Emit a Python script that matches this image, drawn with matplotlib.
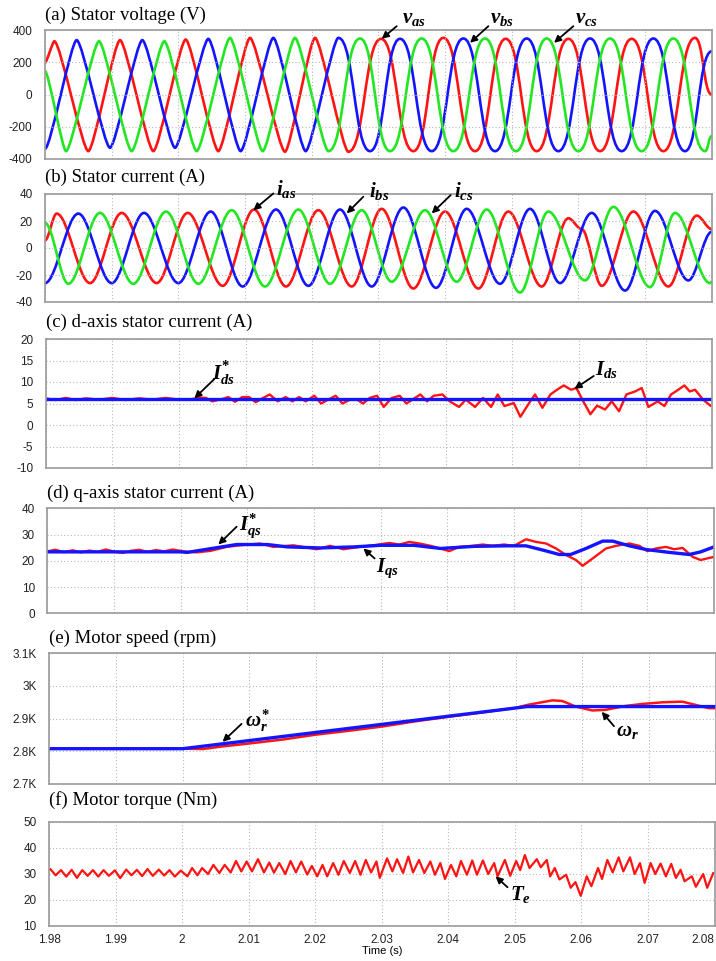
import numpy as np
import matplotlib
matplotlib.use("Agg")
import matplotlib.pyplot as plt
from matplotlib.path import Path
from matplotlib.patches import PathPatch

# time axis: values below are in ms after T0 (s)
T0 = 1.98

# (a) stator voltages: turning points
va_ms = [0, 1.4, 6.5, 11.25, 16.25, 21.1, 26.0, 30.75, 36.0, 40.5, 45.5, 50.4, 55.25,
         59.75, 64.5, 69.1, 73.75, 78.5, 83.25, 88.0, 92.75, 97.5, 100]
va = [198, 333, -354, 340, -354, 344, -354, 354, -358, 354, -358, 348, -354,
      354, -354, 348, -354, 348, -354, 348, -354, 354, 0]
vb_ms = [0, 4.75, 9.75, 14.6, 19.5, 24.5, 29.35, 34.25, 39.1, 44.0, 48.75, 53.25, 58.0,
         62.75, 67.5, 72.25, 77.0, 81.75, 86.5, 91.25, 96.0, 100]
vb = [-340, 340, -333, 340, -333, 348, -354, 354, -354, 354, -354, 348, -354,
      350, -354, 350, -354, 350, -354, 350, -354, 270]
vc_ms = [0, 3.15, 8.1, 13.0, 17.9, 22.75, 27.75, 32.65, 37.5, 42.5, 47.25, 51.75, 56.5,
         61.25, 66.0, 70.65, 75.25, 80.0, 84.75, 89.5, 94.25, 99.0, 100]
vc = [146, -354, 333, -354, 333, -354, 354, -354, 354, -354, 350, -354, 350,
      -354, 350, -354, 350, -354, 350, -354, 350, -354, -260]

# (b) stator currents
ia_ms = [0, 1.75, 6.75, 11.5, 16.75, 21.4, 26.65, 31.35, 36.15, 41.0, 46.0, 50.5, 55.25,
         60.0, 65.0, 69.5, 74.5, 78.5, 80.5, 83.5, 88.25, 93.5, 97.75, 100]
ia = [5.7, 25.5, -26, 26, -26, 26, -28, 28.5, -28.5, 28, -28.5, 29, -30,
      27, -30, 27, -28.5, 22, 14, -28, 27, -28.5, 24, 14]
ib_ms = [0, 5.0, 10.0, 14.85, 20.0, 24.85, 29.65, 34.65, 39.5, 44.25, 49.0, 53.75, 58.65,
         63.25, 68.25, 72.75, 77.25, 82.0, 87.0, 91.5, 96.5, 100]
ib = [-26, 25.5, -26, 26, -26, 27, -28.5, 28.5, -28, 28.5, -28.5, 30, -29.5,
      29, -26.5, 29, -26, 26, -31.5, 27.5, -24, 12]
ic_ms = [0, 3.5, 8.25, 13.25, 18.15, 23.0, 28.0, 33.0, 38.0, 42.75, 47.5, 52.0, 57.0,
         61.75, 66.25, 71.25, 75.5, 81.0, 85.25, 90.75, 94.5, 99.75, 100]
ic = [18.6, -26.5, 26, -26.5, 27, -26.5, 28, -28.5, 28.5, -26.5, 28, -25, 28,
      -25, 28.5, -33, 27, -24, 30.5, -29, 26, -26, -25]

# (c) d-axis current
ids_ref_ms = [0, 100]
ids_ref = [6.0, 6.0]
ids_ms = [0, 1.5, 3, 4.5, 6, 8, 10, 12, 14, 16, 18, 20, 21.9, 23.0, 24.0, 25.0, 26.4, 27.4,
          28.4, 29.5, 30.5, 31.5, 32.5, 33.6, 34.8, 36.0, 37.0, 38.0, 39.0, 40.3, 41.3,
          42.5, 43.5, 44.5, 45.8, 46.6, 47.6, 48.6, 49.7, 50.7, 51.9, 53.1, 54.1, 55.1,
          56.2, 57.2, 58.2, 59.5, 60.6, 62.0, 63.0, 64.4, 65.6, 66.8, 67.8, 68.8, 70.2,
          71.2, 72.5, 73.4, 74.5, 75.7, 76.7, 77.7, 78.8, 79.6, 80.7, 81.7, 82.7, 83.9,
          84.9, 86.0, 87.1, 88.4, 89.4, 90.4, 91.8, 92.8, 93.8, 94.5, 95.8, 96.6, 97.4,
          98.6, 99.7]
ids = [6.2, 5.8, 6.3, 5.8, 6.2, 5.9, 6.3, 5.8, 6.2, 5.9, 6.3, 5.9, 6.0, 6.4, 6.3, 5.5, 6.0,
       6.5, 5.4, 6.5, 6.5, 5.3, 6.2, 7.1, 5.5, 6.5, 5.5, 6.5, 5.5, 6.8, 5.0, 6.0, 6.8, 5.0,
       6.0, 6.0, 5.0, 6.3, 6.8, 4.2, 6.3, 6.8, 5.0, 6.0, 7.1, 5.5, 6.8, 7.1, 5.5, 4.2, 5.9,
       4.2, 6.3, 4.2, 7.1, 4.4, 5.1, 1.9, 5.1, 7.1, 4.0, 7.1, 8.2, 9.2, 8.2, 8.6, 5.3, 2.5,
       4.5, 3.6, 5.5, 3.2, 7.1, 7.8, 8.6, 4.2, 5.5, 4.4, 7.1, 7.8, 9.2, 7.8, 8.2, 5.9, 4.5]

# (d) q-axis current
iqs_ref_ms = [0, 20, 21, 28.4, 33, 36, 41, 46, 50, 55, 59, 64, 69, 71.8, 74.3, 76.8, 78.5,
              80.8, 83.3, 84.8, 87.3, 89.8, 93.3, 96.3, 98, 100]
iqs_ref = [23.4, 23.4, 23.2, 26.2, 26.2, 25.3, 24.9, 25.3, 25.9, 25.9, 24.7, 25.5, 25.7,
           25.7, 24.1, 22.4, 22.4, 24.7, 27.5, 27.5, 25.7, 24.3, 23.2, 22.4, 23.4, 25.3]
iqs_ms = [0, 1.2, 2.5, 3.8, 5, 6.3, 7.5, 8.8, 10, 11.3, 12.5, 13.8, 15, 16.3, 17.5, 18.8,
          20.4, 22.4, 24.5, 26.9, 28.9, 31.9, 33.9, 36.9, 40.4, 42.4, 44.4, 46.9, 48.9,
          51.3, 52.8, 54.3, 55.8, 57.5, 59.3, 60.3, 61.8, 63.8, 65.3, 66.8, 68.5, 70,
          71.8, 73.3, 74.8, 76.3, 77.8, 79.3, 80.3, 81.8, 83.8, 85.3, 87.3, 88.8, 90,
          91.3, 92.8, 94, 95.3, 96.8, 98, 99.3, 100]
iqs = [23.6, 24.2, 23.3, 24.0, 23.2, 23.9, 23.4, 24.3, 23.5, 23.0, 23.8, 24.2, 23.4, 24.1,
       23.6, 24.3, 23.6, 23.2, 23.8, 25.3, 25.9, 26.6, 25.3, 25.9, 24.4, 25.7, 24.4, 25.3,
       25.9, 26.8, 26.2, 27.2, 26.6, 25.7, 24.4, 23.7, 25.3, 25.7, 26.2, 25.7, 26.2, 25.7,
       28.2, 27.2, 26.6, 24.7, 22.2, 20.3, 18.1, 20.9, 24.7, 25.7, 26.6, 25.7, 23.7,
       24.7, 25.3, 24.4, 24.9, 21.5, 20.3, 21.1, 21.5]

# (e) motor speed (rpm)
wr_ref_ms = [0, 20, 71.75, 100]
wr_ref = [2808, 2808, 2937, 2937]
wr_ms = [0, 20, 23, 26, 30, 35, 40, 45, 50, 55, 60, 65, 70, 71.75, 75.5, 77, 79, 81.5,
         83.5, 86.5, 89, 92, 95, 97, 99, 100]
wr = [2808, 2808, 2807, 2815, 2824, 2836, 2851, 2863, 2876, 2892, 2906, 2919, 2933, 2942,
      2956, 2954, 2937, 2925, 2927, 2939, 2945, 2950, 2952, 2942, 2932, 2932]

# (f) motor torque (Nm)
te_ms = [0, 0.2, 1.0, 1.8, 2.6, 3.4, 4.2, 5.0, 5.8, 6.6, 7.4, 8.2, 9.0, 9.9, 10.7, 11.6,
         12.4, 13.2, 14.0, 14.8, 15.6, 16.5, 17.3, 18.1, 18.9, 19.8, 20.8, 21.5, 22.3,
         23.0, 23.9, 24.7, 25.6, 26.4, 27.3, 28.1, 28.9, 29.7, 30.5, 31.4, 32.3, 33.1,
         33.8, 34.6, 35.5, 36.3, 37.1, 37.9, 38.8, 39.5, 40.3, 41.1, 41.8, 42.7, 43.5,
         44.3, 45.2, 46.0, 46.8, 47.6, 48.4, 49.2, 49.7, 50.8, 51.6, 52.3, 53.2, 54.0,
         54.7, 55.6, 56.4, 57.3, 58.0, 58.8, 59.5, 60.4, 61.2, 61.9, 62.8, 63.6, 64.3,
         65.2, 66.0, 66.9, 67.4, 68.5, 69.3, 70.2, 70.8, 71.5, 72.2, 73.3, 73.9, 74.8,
         75.3, 76.0, 76.7, 77.7, 78.4, 79.1, 79.9, 80.8, 81.5, 82.5, 83.1, 83.9, 84.7,
         85.6, 86.3, 87.3, 88.0, 88.8, 89.5, 90.4, 91.1, 91.9, 92.7, 93.5, 94.2, 94.9,
         95.5, 96.6, 97.2, 98.3, 98.9, 99.8]
te = [31.5, 31.9, 29.5, 31.5, 29.0, 31.6, 28.5, 31.5, 29.3, 31.5, 29.0, 31.5, 29.3, 31.4,
      28.4, 31.7, 29.5, 31.6, 29.2, 31.9, 29.3, 31.7, 29.4, 31.5, 29.0, 31.3, 29.1, 32.3,
      29.5, 32.3, 30.0, 33.5, 30.4, 33.5, 30.6, 35.0, 31.0, 34.8, 31.0, 35.7, 30.6, 34.4,
      30.5, 34.2, 30.0, 35.0, 30.6, 34.8, 29.8, 33.1, 29.1, 33.5, 29.1, 34.2, 29.7, 35.0,
      30.4, 35.0, 29.7, 35.4, 30.6, 34.8, 28.5, 36.0, 31.0, 35.7, 30.4, 36.7, 30.6, 35.4,
      30.4, 34.8, 29.7, 34.2, 28.1, 33.5, 29.1, 35.0, 29.7, 35.2, 29.7, 35.2, 30.0, 34.2,
      29.1, 35.4, 29.3, 35.0, 31.5, 37.3, 32.3, 35.7, 32.6, 35.4, 29.1, 32.3, 27.9, 29.7,
      24.7, 26.9, 21.6, 29.1, 25.3, 32.3, 28.1, 35.4, 30.6, 36.4, 31.0, 36.4, 30.0, 34.2,
      26.6, 34.2, 30.0, 34.0, 29.1, 33.9, 28.5, 31.6, 27.2, 29.1, 25.1, 30.0, 24.7, 30.3]

x_ticks = [1.98, 1.99, 2.0, 2.01, 2.02, 2.03, 2.04, 2.05, 2.06, 2.07, 2.08]
x_labels = ["1.98", "1.99", "2", "2.01", "2.02", "2.03", "2.04", "2.05", "2.06", "2.07", "2.08"]

RED, BLUE, GREEN = "#ff1414", "#1414ff", "#22e622"
W, H = 716, 961

plt.rcParams["mathtext.fontset"] = "custom"
plt.rcParams["mathtext.it"] = "Liberation Serif:italic:bold"
plt.rcParams["mathtext.rm"] = "Liberation Serif:bold"
plt.rcParams["mathtext.bf"] = "Liberation Serif:italic:bold"

fig = plt.figure(figsize=(W / 100, H / 100), dpi=100)


def tt(ms):
    return T0 + np.asarray(ms, float) / 1000.0


def panel(left, top, right, bottom, title, title_y, ylim, yticks, ylabels=None):
    ax = fig.add_axes([left / W, 1 - bottom / H, (right - left) / W, (bottom - top) / H])
    ax.set_xlim(1.98, 2.08)
    ax.set_ylim(*ylim)
    ax.set_xticks(x_ticks)
    ax.set_yticks(yticks)
    ax.set_yticklabels(ylabels if ylabels else [str(v) for v in yticks],
                       family="Liberation Sans", fontsize=8.5)
    ax.set_xticklabels([])
    ax.tick_params(length=0, pad=9, labelcolor="#222222")
    ax.grid(True, color="#b8b8b8", lw=0.8, linestyle=(0, (1, 2)))
    for s in ax.spines.values():
        s.set_color("#9a9a9a")
        s.set_linewidth(1.2)
    fig.text(left / W, 1 - title_y / H, title, family="Liberation Serif",
             fontsize=13.5, ha="left", va="center")
    return ax


def wave(ax, ms, vals, color, k_early, k_late=None, split=None, lw=1.9):
    # smooth trace through the turning points (horizontal tangents at each)
    t = tt(ms)
    v = np.asarray(vals, float)
    verts = [(t[0], v[0])]
    codes = [Path.MOVETO]
    for i in range(1, len(t)):
        dt = t[i] - t[i - 1]
        k = k_early if (split is None or t[i - 1] < split) else k_late
        verts += [(t[i - 1] + k * dt, v[i - 1]), (t[i] - k * dt, v[i]), (t[i], v[i])]
        codes += [Path.CURVE4] * 3
    ax.add_patch(PathPatch(Path(verts, codes), fill=False, edgecolor=color, lw=lw,
                           joinstyle="round", capstyle="round"))


def label(ax, text, xy_ms, yv, tail_ms, tail_v, tip_ms, tip_v, fs=15):
    ax.annotate("", xy=(tt(tip_ms), tip_v), xytext=(tt(tail_ms), tail_v),
                arrowprops=dict(arrowstyle="-|>", color="black", lw=1.3,
                                mutation_scale=10, shrinkA=0, shrinkB=0),
                annotation_clip=False)
    ax.text(tt(xy_ms), yv, text, fontsize=fs, ha="left", va="center", clip_on=False)


# (a)
ax = panel(45, 30.5, 711.7, 158.5, "(a) Stator voltage (V)", 15,
           (-400, 400), [-400, -200, 0, 200, 400])
wave(ax, va_ms, va, RED, 0.18, 0.5, 2.022)
wave(ax, vb_ms, vb, BLUE, 0.18, 0.5, 2.022)
wave(ax, vc_ms, vc, GREEN, 0.18, 0.5, 2.022)
label(ax, r"$v_{as}$", 53.6, 478, 52.75, 427, 50.5, 348)
label(ax, r"$v_{bs}$", 66.7, 478, 66.5, 427, 63.75, 323)
label(ax, r"$v_{cs}$", 79.5, 478, 79.25, 427, 76.35, 323)

# (b)
ax = panel(45, 194, 711.7, 302, "(b) Stator current (A)", 177,
           (-40, 40), [-40, -20, 0, 20, 40])
wave(ax, ia_ms, ia, RED, 0.34)
wave(ax, ib_ms, ib, BLUE, 0.34)
wave(ax, ic_ms, ic, GREEN, 0.34)
label(ax, r"$i_{as}$", 34.6, 43.5, 34.25, 40.4, 31.25, 28)
label(ax, r"$i_{bs}$", 48.6, 42.5, 47.75, 38, 45.25, 25.6)
label(ax, r"$i_{cs}$", 61.3, 42.5, 60.85, 39.2, 58.0, 25.6)

# (c)
ax = panel(45.7, 339, 712.4, 468, "(c) d-axis stator current (A)", 322,
           (-10, 20), [-10, -5, 0, 5, 10, 15, 20])
ax.plot(tt(ids_ms), ids, color=RED, lw=1.7)
ax.plot(tt(ids_ref_ms), ids_ref, color=BLUE, lw=2.4)
label(ax, r"$I_{ds}^{*}$", 25.0, 12.0, 25.3, 10.7, 22.3, 6.2)
label(ax, r"$I_{ds}$", 82.4, 12.8, 82.2, 11.4, 79.3, 8.4)

# (d)
ax = panel(47.3, 508.3, 714, 613.3, "(d) q-axis stator current (A)", 493,
           (0, 40), [0, 10, 20, 30, 40])
ax.plot(tt(iqs_ms), iqs, color=RED, lw=1.7)
ax.plot(tt(iqs_ref_ms), iqs_ref, color=BLUE, lw=2.4)
label(ax, r"$I_{qs}^{*}$", 28.8, 33.5, 28.4, 33.0, 25.65, 26.2)
label(ax, r"$I_{qs}$", 49.3, 17.2, 49.1, 20.9, 47.4, 24.7)

# (e)
ax = panel(49.3, 653.3, 715.6, 784, "(e) Motor speed (rpm)", 638,
           (2700, 3100), [2700, 2800, 2900, 3000, 3100],
           ["2.7K", "2.8K", "2.9K", "3K", "3.1K"])
ax.plot(tt(wr_ms), wr, color=RED, lw=1.8)
ax.plot(tt(wr_ref_ms), wr_ref, color=BLUE, lw=2.4)
label(ax, r"$\omega_{r}^{*}$", 29.3, 2892, 28.85, 2884, 26.0, 2829)
label(ax, r"$\omega_{r}$", 85.0, 2862, 84.75, 2877, 82.9, 2921)

# (f)
ax = panel(49, 822, 714.5, 926, "(f) Motor torque (Nm)", 800,
           (10, 50), [10, 20, 30, 40, 50])
ax.plot(tt(te_ms), te, color=RED, lw=1.6)
xl = ax.set_xticklabels(x_labels, family="Liberation Sans", fontsize=8.5)
xl[-1].set_horizontalalignment("right")
xl[0].set_horizontalalignment("center")
ax.tick_params(axis="x", pad=6)
ax.set_xlabel("Time (s)", family="Liberation Sans", fontsize=8, labelpad=0)
label(ax, r"$T_{e}$", 69.3, 22.2, 68.9, 24.9, 67.1, 29.1)

fig.savefig("out.png", dpi=100)
